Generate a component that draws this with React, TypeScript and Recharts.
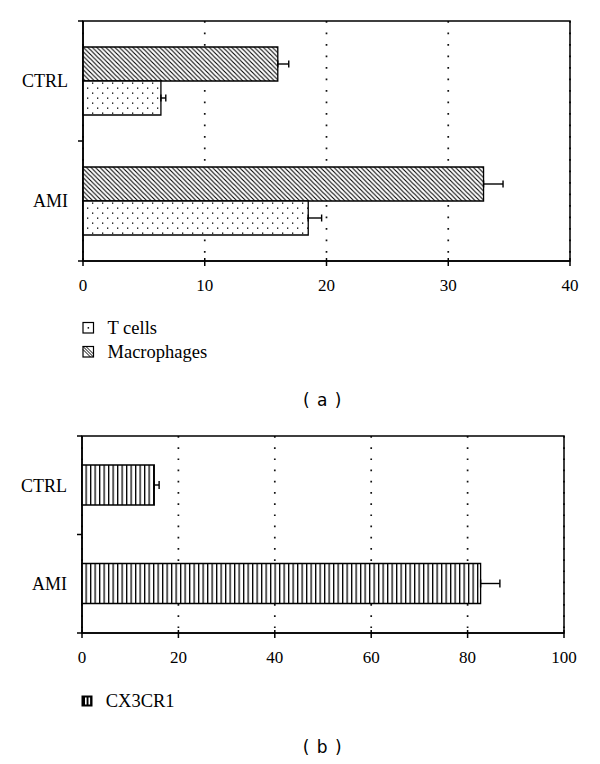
import React from 'react';
import {
  BarChart,
  Bar,
  XAxis,
  YAxis,
  CartesianGrid,
  ErrorBar,
  ReferenceArea,
} from 'recharts';

// ---- data ----
const categories = ['CTRL', 'AMI'];
const tCells = [6.4, 18.5];
const tCellsErr = [0.4, 1.1];
const macrophages = [16.0, 32.9];
const macrophagesErr = [0.9, 1.6];
const cx3cr1 = [15.0, 82.7];
const cx3cr1Err = [1.0, 4.0];
const ticksA = [0, 10, 20, 30, 40];
const ticksB = [0, 20, 40, 60, 80, 100];
const legendA = ['T cells', 'Macrophages'];
const legendB = ['CX3CR1'];
const captions = ['( a )', '( b )'];

const rowsA = categories.map((name, i) => ({
  name,
  macrophages: macrophages[i],
  macrophagesErr: [0, macrophagesErr[i]],
  tCells: tCells[i],
  tCellsErr: [0, tCellsErr[i]],
}));

const rowsB = categories.map((name, i) => ({
  name,
  cx3cr1: cx3cr1[i],
  cx3cr1Err: [0, cx3cr1Err[i]],
}));

const SERIF = '"Liberation Serif", "Times New Roman", serif';
const SANS = '"DejaVu Sans", sans-serif';
const AX = { stroke: '#000', strokeWidth: 1.5 };
const CAT_MARGIN = 15;
const X_TS = 5;
const X_TM = 13;

function CatTick(props: any) {
  const { x, y, payload, height, visibleTicksCount, index } = props;
  const half =
    payload && typeof payload.offset === 'number' && payload.offset > 0
      ? payload.offset
      : height / (2 * (visibleTicksCount || 2));
  const ax = x + CAT_MARGIN;
  return (
    <g>
      <text x={x} y={y} dy="0.355em" textAnchor="end" fontFamily={SERIF} fontSize={18} fill="#000">
        {payload.value}
      </text>
      {index === 0 && <line x1={ax - 5} x2={ax} y1={y - half} y2={y - half} stroke="#000" strokeWidth={1.5} />}
      <line x1={ax - 5} x2={ax} y1={y + half} y2={y + half} stroke="#000" strokeWidth={1.5} />
    </g>
  );
}

function NumTick(props: any) {
  const { x, y, payload } = props;
  const ay = y - X_TS - X_TM;
  return (
    <g>
      <line x1={x} x2={x} y1={ay - 3} y2={ay} stroke="#000" strokeWidth={1.5} />
      <text x={x} y={y} dy="0.71em" textAnchor="middle" fontFamily={SERIF} fontSize={17} fill="#000">
        {payload.value}
      </text>
    </g>
  );
}

function PatternDefs() {
  return (
    <defs>
      <pattern id="hatchA" width={4.5} height={4.5} patternUnits="userSpaceOnUse">
        <rect width={4.5} height={4.5} fill="#fff" />
        <path d="M-1,-1 L5.5,5.5 M3.5,-1 L5.5,1 M-1,3.5 L1,5.5" stroke="#000" strokeWidth={1.1} />
      </pattern>
      <pattern id="dotsA" width={10} height={10} patternUnits="userSpaceOnUse">
        <rect width={10} height={10} fill="#fff" />
        <rect x={2} y={2.5} width={1.3} height={1.3} fill="#000" />
        <rect x={7} y={7.5} width={1.3} height={1.3} fill="#000" />
      </pattern>
      <pattern id="stripesB" width={4.5} height={10} patternUnits="userSpaceOnUse">
        <rect width={4.5} height={10} fill="#fff" />
        <rect x={0} y={0} width={1.3} height={10} fill="#000" />
      </pattern>
    </defs>
  );
}

function ChartA() {
  return (
    <BarChart
      width={600}
      height={300}
      data={rowsA}
      layout="vertical"
      margin={{ top: 21, right: 30, bottom: 9, left: 0 }}
      barGap={0}
    >
      <PatternDefs />
      <CartesianGrid horizontal={false} stroke="#111" strokeWidth={1.7} strokeDasharray="1.7 9.8" />
      <XAxis
        type="number"
        domain={[0, 40]}
        ticks={ticksA}
        interval={0}
        height={30}
        tickSize={X_TS}
        tickMargin={X_TM}
        axisLine={AX}
        tickLine={AX}
        tick={<NumTick />}
      />
      <YAxis
        type="category"
        dataKey="name"
        width={83}
        axisLine={AX}
        tickLine={false}
        tickSize={0}
        tickMargin={CAT_MARGIN}
        tick={<CatTick />}
      />
      <Bar dataKey="macrophages" barSize={34} fill="url(#hatchA)" stroke="#000" strokeWidth={1.3} isAnimationActive={false}>
        <ErrorBar dataKey="macrophagesErr" direction="x" width={3.5} stroke="#000" strokeWidth={1.4} />
      </Bar>
      <Bar dataKey="tCells" barSize={34} fill="url(#dotsA)" stroke="#000" strokeWidth={1.3} isAnimationActive={false}>
        <ErrorBar dataKey="tCellsErr" direction="x" width={3.5} stroke="#000" strokeWidth={1.4} />
      </Bar>
      <ReferenceArea x1={0} x2={40} fill="none" fillOpacity={0} stroke="#000" strokeWidth={1.5} />
    </BarChart>
  );
}

function ChartB() {
  return (
    <BarChart
      width={600}
      height={260}
      data={rowsB}
      layout="vertical"
      margin={{ top: 21, right: 36, bottom: 12, left: 0 }}
    >
      <PatternDefs />
      <CartesianGrid horizontal={false} stroke="#111" strokeWidth={1.7} strokeDasharray="1.7 9.5" />
      <XAxis
        type="number"
        domain={[0, 100]}
        ticks={ticksB}
        interval={0}
        height={30}
        tickSize={X_TS}
        tickMargin={X_TM}
        axisLine={AX}
        tickLine={AX}
        tick={<NumTick />}
      />
      <YAxis
        type="category"
        dataKey="name"
        width={82}
        axisLine={AX}
        tickLine={false}
        tickSize={0}
        tickMargin={CAT_MARGIN}
        tick={<CatTick />}
      />
      <Bar dataKey="cx3cr1" barSize={40} fill="url(#stripesB)" stroke="#000" strokeWidth={1.3} isAnimationActive={false}>
        <ErrorBar dataKey="cx3cr1Err" direction="x" width={4} stroke="#000" strokeWidth={1.4} />
      </Bar>
      <ReferenceArea x1={0} x2={100} fill="none" fillOpacity={0} stroke="#000" strokeWidth={1.5} />
    </BarChart>
  );
}

function Overlay() {
  return (
    <svg width={600} height={764} style={{ position: 'absolute', left: 0, top: 0, pointerEvents: 'none' }}>
      {/* legend a */}
      <rect x={83} y={322.5} width={10.5} height={10.5} fill="#fff" stroke="#000" strokeWidth={1.2} />
      <rect x={87.6} y={327.1} width={1.5} height={1.5} fill="#000" />
      <text x={107.5} y={334} fontFamily={SERIF} fontSize={18.5} fill="#000">{legendA[0]}</text>
      <rect x={83} y={346.5} width={10.5} height={10.5} fill="#fff" stroke="#000" strokeWidth={1.2} />
      <path d="M83,349.5 L90.5,357 M83,346.5 L93.5,357 M86,346.5 L93.5,354" stroke="#000" strokeWidth={1} />
      <text x={107.5} y={357.5} fontFamily={SERIF} fontSize={18.5} fill="#000">{legendA[1]}</text>
      {/* legend b */}
      <rect x={81.5} y={695.5} width={11} height={11} fill="#000" />
      <rect x={85} y={697.5} width={1.6} height={7} fill="#fff" />
      <rect x={88.5} y={697.5} width={1.6} height={7} fill="#fff" />
      <text x={105.7} y={706.7} fontFamily={SERIF} fontSize={18.5} fill="#000">{legendB[0]}</text>
      {/* captions */}
      <text x={322.7} y={405.6} textAnchor="middle" fontFamily={SANS} fontSize={17} letterSpacing={1} fill="#000" style={{ whiteSpace: 'pre' }}>{captions[0]}</text>
      <text x={322.7} y={753.2} textAnchor="middle" fontFamily={SANS} fontSize={17} letterSpacing={1} fill="#000" style={{ whiteSpace: 'pre' }}>{captions[1]}</text>
    </svg>
  );
}

export default function App() {
  return (
    <div style={{ position: 'absolute', left: 0, top: 0, width: 600, height: 764, background: '#fff', fontFamily: SERIF }}>
      <div style={{ position: 'absolute', left: 0, top: 0 }}>
        <ChartA />
      </div>
      <div style={{ position: 'absolute', left: 0, top: 415 }}>
        <ChartB />
      </div>
      <Overlay />
    </div>
  );
}
